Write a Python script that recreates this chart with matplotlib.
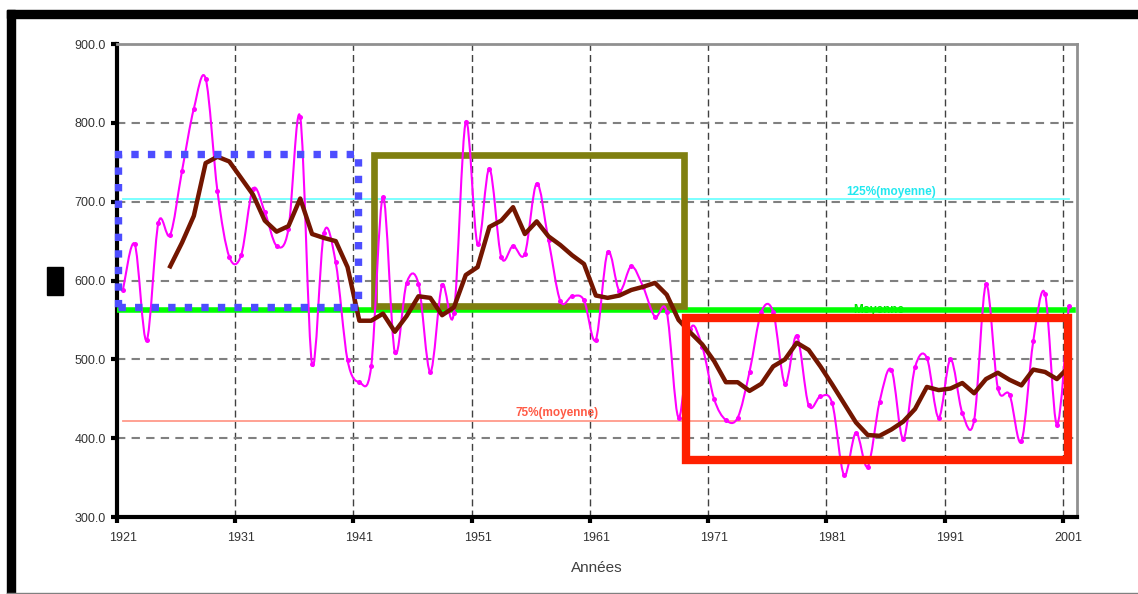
import matplotlib
matplotlib.use("Agg")
import matplotlib.pyplot as plt
import numpy as np
from matplotlib.path import Path
from matplotlib.patches import PathPatch, Rectangle

plt.rcParams['font.family'] = ['Liberation Sans', 'DejaVu Sans']

# annual values 1921-2001
years = list(range(1921, 2002))
values = [588, 646, 524, 673, 658, 739, 818, 856, 713, 630,
          632, 716, 687, 644, 665, 807, 494, 660, 623, 499,
          471, 491, 706, 509, 597, 596, 484, 594, 559, 801,
          646, 742, 630, 644, 634, 723, 651, 574, 580, 575,
          525, 636, 587, 618, 592, 554, 560, 426, 538, 516,
          450, 423, 426, 484, 560, 560, 469, 530, 442, 453,
          444, 353, 407, 364, 446, 487, 399, 490, 502, 426,
          500, 432, 423, 595, 464, 455, 396, 523, 583, 417,
          568]

# moving average (brown line) 1925-2001
ma_years = list(range(1925, 2002))
ma_values = [618, 648, 682, 749, 757, 751, 730, 709, 676, 662,
             669, 704, 659, 654, 650, 617, 549, 549, 558, 535,
             555, 580, 578, 556, 566, 607, 617, 668, 676, 693,
             659, 675, 656, 645, 632, 621, 581, 578, 581, 588,
             592, 597, 582, 550, 534, 519, 498, 471, 471, 460,
             469, 491, 500, 521, 512, 491, 468, 444, 420, 404,
             403, 411, 421, 437, 465, 461, 463, 470, 457, 475,
             483, 474, 467, 487, 484, 475, 490]

mean_val = 562.5

# highlighted periods: (first year, last year, low, high)
periods = {
    'blue': (1920.6, 1940.9, 566, 761),
    'olive': (1942.2, 1968.5, 568, 759),
    'red': (1968.6, 2000.9, 372, 552),
}

fig = plt.figure(figsize=(11.38, 5.94), dpi=100)
ax = fig.add_axes([0.1028, 0.1296, 0.8436, 0.7963])

# smoothed magenta curve (bezier through the points)
pts = np.column_stack([years, values]).astype(float)
verts = [pts[0]]
codes = [Path.MOVETO]
for i in range(len(pts) - 1):
    p0 = pts[i - 1] if i > 0 else pts[i]
    p1 = pts[i]
    p2 = pts[i + 1]
    p3 = pts[i + 2] if i + 2 < len(pts) else pts[i + 1]
    verts += [p1 + (p2 - p0) / 6.0, p2 - (p3 - p1) / 6.0, p2]
    codes += [Path.CURVE4] * 3
ax.add_patch(PathPatch(Path(verts, codes), fill=False, edgecolor='#ff00ff',
                       lw=1.5, zorder=4))
ax.plot(years, values, 'o', color='#ff00ff', ms=3.6, mew=0, zorder=4)

ax.plot(ma_years, ma_values, color='#731600', lw=3.2, zorder=4.5)

# reference lines
ax.plot([years[0], years[-1]], [mean_val * 1.25] * 2, color='#70ffff', lw=1.3, zorder=2)
ax.plot([years[0], years[-1]], [mean_val * 0.75] * 2, color='#ff9a8a', lw=1.3, zorder=2)
ax.text(1957.7, mean_val * 0.75 + 2, '75%(moyenne)', color='#ff5a45', fontsize=8.5,
        fontweight='bold', ha='center', va='bottom', zorder=2)
ax.text(1986, mean_val * 1.25 + 2, '125%(moyenne)', color='#22e8f0', fontsize=8.5,
        fontweight='bold', ha='center', va='bottom', zorder=2)
ax.text(1984.9, mean_val - 7, 'Moyenne', color='#00e000', fontsize=8.5,
        fontweight='bold', ha='center', va='bottom', zorder=2)
ax.plot([1920.6, 2001.4], [mean_val] * 2, color='#00ff00', lw=4, zorder=3)

# boxes
x0, x1, y0, y1 = periods['blue']
ax.add_patch(Rectangle((x0, y0), x1 - x0, y1 - y0, fill=False, edgecolor='#4d4dff',
                       lw=5.3, linestyle=(0, (1, 1.25)), clip_on=False, zorder=5,
                       capstyle='butt'))
x0, x1, y0, y1 = periods['olive']
ax.add_patch(Rectangle((x0, y0), x1 - x0, y1 - y0, fill=False, edgecolor='#7f7f10',
                       lw=4.8, clip_on=False, zorder=3.5, joinstyle='miter'))
x0, x1, y0, y1 = periods['red']
ax.add_patch(Rectangle((x0, y0), x1 - x0, y1 - y0, fill=False, edgecolor='#ff2000',
                       lw=6, clip_on=False, zorder=5, joinstyle='miter'))

# axes
ax.set_xlim(1920.5, 2001.7)
ax.set_ylim(300, 900)
label_years = list(range(1921, 2002, 10))
ax.set_xticks([y - 0.5 for y in label_years], minor=True)
ax.set_xticks(label_years)
ax.set_xticklabels([str(y) for y in label_years])
ax.set_yticks(range(300, 901, 100))
ax.set_yticklabels(['%.1f' % v for v in range(300, 901, 100)])
ax.tick_params(axis='x', which='major', length=0, pad=11, labelsize=9, labelcolor='#333333')
ax.tick_params(axis='x', which='minor', length=4, width=3, color='black', direction='out')
ax.tick_params(axis='y', length=4, width=3, color='black', pad=4, labelsize=9,
               labelcolor='#333333')

ax.grid(False)
ax.xaxis.grid(True, which='minor', color='#404040', lw=1, linestyle=(0, (5, 3)), zorder=1)
ax.yaxis.grid(True, color='#808080', lw=1.5, linestyle=(0, (4, 3)), zorder=1)
ax.set_axisbelow(True)

for side in ['left', 'bottom']:
    ax.spines[side].set_color('black')
    ax.spines[side].set_linewidth(3)
for side in ['top', 'right']:
    ax.spines[side].set_color('#909090')
    ax.spines[side].set_linewidth(2)

ax.set_xlabel('Années', fontsize=11, color='#404040', labelpad=12)

# hidden y label block and window frame
fig.patches.append(Rectangle((0.0413, 0.5034), 0.0141, 0.0471, transform=fig.transFigure,
                             color='black', figure=fig))
fig.patches.append(Rectangle((0.00615, 0.9697), 0.99385, 0.0135, transform=fig.transFigure,
                             color='black', figure=fig))
fig.patches.append(Rectangle((0.00615, 0.0), 0.0070, 0.9832, transform=fig.transFigure,
                             color='black', figure=fig))
fig.patches.append(Rectangle((0.00615, 0.0), 0.99385, 0.0025, transform=fig.transFigure,
                             color='#808080', figure=fig))

fig.savefig('out.png', dpi=100)
